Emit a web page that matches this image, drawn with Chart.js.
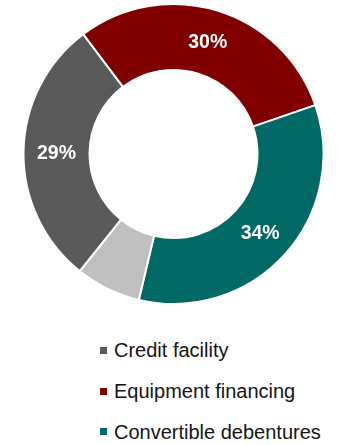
<!DOCTYPE html>
<html>
<head>
<meta charset="utf-8">
<script src="https://cdn.jsdelivr.net/npm/chart.js@4/dist/chart.umd.min.js"></script>
<style>
  html, body { margin: 0; padding: 0; background: #ffffff; }
  body { width: 344px; height: 445px; position: relative; overflow: hidden;
         font-family: "Liberation Sans", Arial, sans-serif; }
  #wrap { position: absolute; left: 0; top: 0; width: 344px; height: 306px; }
  #legend { position: absolute; left: 100px; top: 330px; margin: 0; padding: 0; list-style: none; }
  #legend li { height: 40.75px; line-height: 40.75px; font-size: 20px; color: #141414;
               display: flex; align-items: center; white-space: nowrap; }
  #legend .box { width: 7px; height: 7px; margin-right: 7px; flex: none; }
</style>
</head>
<body>
<div id="wrap"><canvas id="c"></canvas></div>
<ul id="legend"></ul>
<script>
// Funding mix by source (percent of total)
const categories = ['Credit facility', 'Equipment financing', 'Convertible debentures', 'Other'];
const shares = [29, 30, 34, 7];
const colors = ['#595959', '#800000', '#006865', '#bfbfbf'];
// Only the three named sources get a percent label and a legend entry
const labelled = [true, true, true, false];

const sliceLabels = {
  id: 'sliceLabels',
  afterDatasetsDraw(chart) {
    const ctx = chart.ctx;
    const meta = chart.getDatasetMeta(0);
    ctx.save();
    ctx.fillStyle = '#ffffff';
    ctx.font = 'bold 19.5px "Liberation Sans", Arial, sans-serif';
    ctx.textAlign = 'center';
    ctx.textBaseline = 'middle';
    meta.data.forEach((arc, i) => {
      if (!labelled[i]) return;
      const p = arc.tooltipPosition();
      ctx.fillText(shares[i] + '%', p.x, p.y + 1);
    });
    ctx.restore();
  }
};

const chart = new Chart(document.getElementById('c'), {
  type: 'doughnut',
  data: {
    labels: categories,
    datasets: [{
      data: shares,
      backgroundColor: colors,
      borderColor: '#ffffff',
      borderWidth: 2
    }]
  },
  options: {
    responsive: true,
    maintainAspectRatio: false,
    animation: false,
    rotation: 218.6,
    cutout: '56%',
    layout: { padding: { top: 3, bottom: 1, left: 3, right: 0 } },
    plugins: {
      legend: { display: false },
      tooltip: { enabled: false }
    }
  },
  plugins: [sliceLabels]
});

// Legend list built from the chart's own data
const legendEl = document.getElementById('legend');
categories.forEach((name, i) => {
  if (!labelled[i]) return;
  const li = document.createElement('li');
  const box = document.createElement('span');
  box.className = 'box';
  box.style.background = colors[i];
  li.appendChild(box);
  li.appendChild(document.createTextNode(name));
  legendEl.appendChild(li);
});
</script>
</body>
</html>
